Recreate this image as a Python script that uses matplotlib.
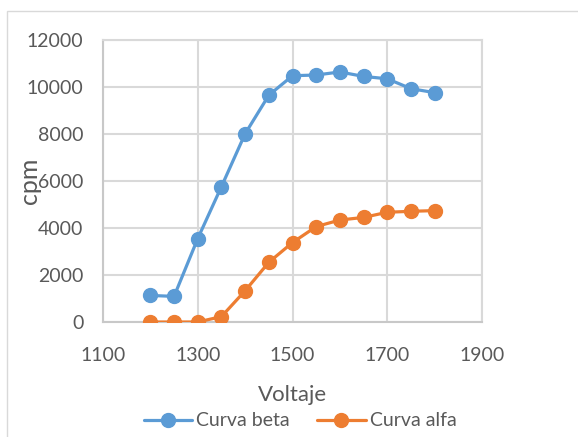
import matplotlib

matplotlib.use("Agg")
import matplotlib.pyplot as plt
from matplotlib.patches import Rectangle

# Data
voltaje = [1200, 1250, 1300, 1350, 1400, 1450, 1500, 1550, 1600, 1650, 1700, 1750, 1800]
curva_beta = [1130, 1090, 3550, 5760, 8010, 9650, 10480, 10510, 10640, 10450, 10350, 9930, 9760]
curva_alfa = [0, 0, 0, 230, 1330, 2540, 3380, 4060, 4340, 4450, 4670, 4710, 4740]

x_ticks = [1100, 1300, 1500, 1700, 1900]
y_ticks = [0, 2000, 4000, 6000, 8000, 10000, 12000]

BLUE = "#5B9BD5"
ORANGE = "#ED7D31"
TEXT = "#595959"
GRID = "#D9D9D9"

plt.rcParams["font.family"] = ["Lato", "DejaVu Sans"]

W, H = 578, 437
fig = plt.figure(figsize=(W / 100, H / 100), dpi=100)

# chart frame (cropped on the right and bottom like the screenshot)
fig.add_artist(
    Rectangle((7 / W, -0.05), 1.1, 1 - 11 / H + 0.05, transform=fig.transFigure,
              fill=False, edgecolor=GRID, linewidth=1.0)
)

ax = fig.add_axes([103 / W, 1 - 322 / H, (482 - 103) / W, (322 - 40) / H])

ax.plot(voltaje, curva_beta, color=BLUE, linewidth=2.3, marker="o", markersize=10,
        label="Curva beta", solid_capstyle="round", zorder=3)
ax.plot(voltaje, curva_alfa, color=ORANGE, linewidth=2.3, marker="o", markersize=10,
        label="Curva alfa", solid_capstyle="round", zorder=3)

ax.set_xlim(1100, 1900)
ax.set_ylim(0, 12000)
ax.set_xticks(x_ticks)
ax.set_yticks(y_ticks)
ax.grid(True, color=GRID, linewidth=1.5)
ax.set_axisbelow(True)
for side in ["top", "right"]:
    ax.spines[side].set_color(GRID)
    ax.spines[side].set_linewidth(1.5)
for side in ["left", "bottom"]:
    ax.spines[side].set_color("#C8C8C8")
    ax.spines[side].set_linewidth(1.5)

ax.tick_params(axis="both", length=0, labelsize=14, labelcolor=TEXT)
ax.tick_params(axis="y", pad=14)
ax.tick_params(axis="x", pad=18)

ax.set_xlabel("Voltaje", fontsize=16, color=TEXT, labelpad=15)
ax.set_ylabel("cpm", fontsize=18, color=TEXT, labelpad=-10)

fig.legend(loc="center", bbox_to_anchor=(300 / W, 1 - 421 / H), ncol=2, frameon=False,
           fontsize=14, labelcolor=TEXT, handlelength=2.5, handletextpad=0.2,
           columnspacing=1.4, borderpad=0)

fig.savefig("out.png", dpi=100)
